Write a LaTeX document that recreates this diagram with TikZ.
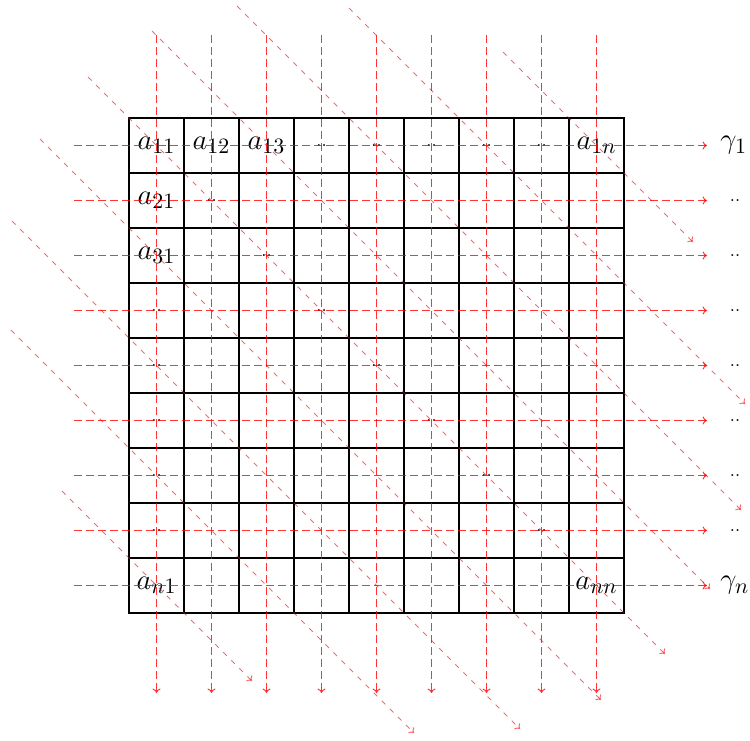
\documentclass[tikz,border=0pt]{standalone}
\usetikzlibrary{arrows.meta}
\begin{document}
\begin{tikzpicture}[x=0.5pt,y=-0.5pt,
  cellbox/.style={draw=black,line width=0.9pt,minimum size=27.5pt,inner sep=0pt,outer sep=0pt},
  entry/.style={font=\fontsize{15}{17}\selectfont,inner sep=0pt},
  flowline/.style={draw=red,draw opacity=0.8,line width=0.5pt,dash pattern=on 3.75pt off 2.25pt,-{To[length=2.2pt,width=4pt]}},
  diagline/.style={draw=red,draw opacity=0.6,line width=0.5pt,dash pattern=on 2.5pt off 3.2pt,-{To[length=2.2pt,width=4pt]}},
  lbl/.style={font=\fontsize{15}{17}\selectfont,inner sep=0pt},
  dotlbl/.style={font=\fontsize{9}{10}\selectfont,inner sep=0pt}]
\useasboundingbox (0,0) rectangle (750,740);
% grid cells
\foreach \r in {1,...,9}{
  \foreach \c in {1,...,9}{
    \node[cellbox] (c\r-\c) at ({101.5+55*\c},{90.5+55*\r}) {};
  }
}
% entries
\node[entry] (t11) at (c1-1) {$a_{11}$};
\node[entry] (t12) at (c1-2) {$a_{12}$};
\node[entry] (t13) at (c1-3) {$a_{13}$};
\node[entry] (t1n) at (c1-9) {$a_{1n}$};
\node[entry] (t21) at (c2-1) {$a_{21}$};
\node[entry] (t31) at (c3-1) {$a_{31}$};
\node[entry] (tn1) at (c9-1) {$a_{n1}$};
\node[entry] (tnn) at (c9-9) {$a_{nn}$};
\foreach \c in {4,...,8}{ \node[dotlbl] (dr\c) at (c1-\c) {..}; }
\foreach \r in {4,...,8}{ \node[dotlbl] (dc\r) at (c\r-1) {..}; }
\foreach \r in {2,...,8}{ \node[dotlbl] (dd\r) at (c\r-\r) {..}; }
% horizontal arrows
\foreach \r in {1,...,9}{
  \coordinate (hs\r) at (74,{90.5+55*\r});
  \coordinate (he\r) at (707,{90.5+55*\r});
  \draw[flowline] (hs\r) -- (he\r);
}
% vertical arrows
\foreach \c in {1,...,9}{
  \coordinate (vs\c) at ({101.5+55*\c},35);
  \coordinate (ve\c) at ({101.5+55*\c},693);
  \draw[flowline] (vs\c) -- (ve\c);
}
% diagonal arrows
\foreach \k/\sx/\ex [count=\i] in {451/503/693, 341/349/745, 231/237/741, 121/152/710, 11/88/665, -99/40/601, -209/12/520, -319/11/414, -429/62/252}{
  \pgfmathsetmacro{\sy}{\sx-(\k)}
  \pgfmathsetmacro{\ey}{\ex-(\k)}
  \coordinate (ds\i) at (\sx,\sy);
  \coordinate (de\i) at (\ex,\ey);
  \draw[diagline] (ds\i) -- (de\i);
}
% right labels
\node[lbl,anchor=west] (g1) at (720,145.5) {$\gamma_1$};
\foreach \r in {2,...,8}{ \node[dotlbl] (rl\r) at (735,{90.5+55*\r}) {..}; }
\node[lbl,anchor=west] (gn) at (720,585.5) {$\gamma_n$};
\end{tikzpicture}
\end{document}
